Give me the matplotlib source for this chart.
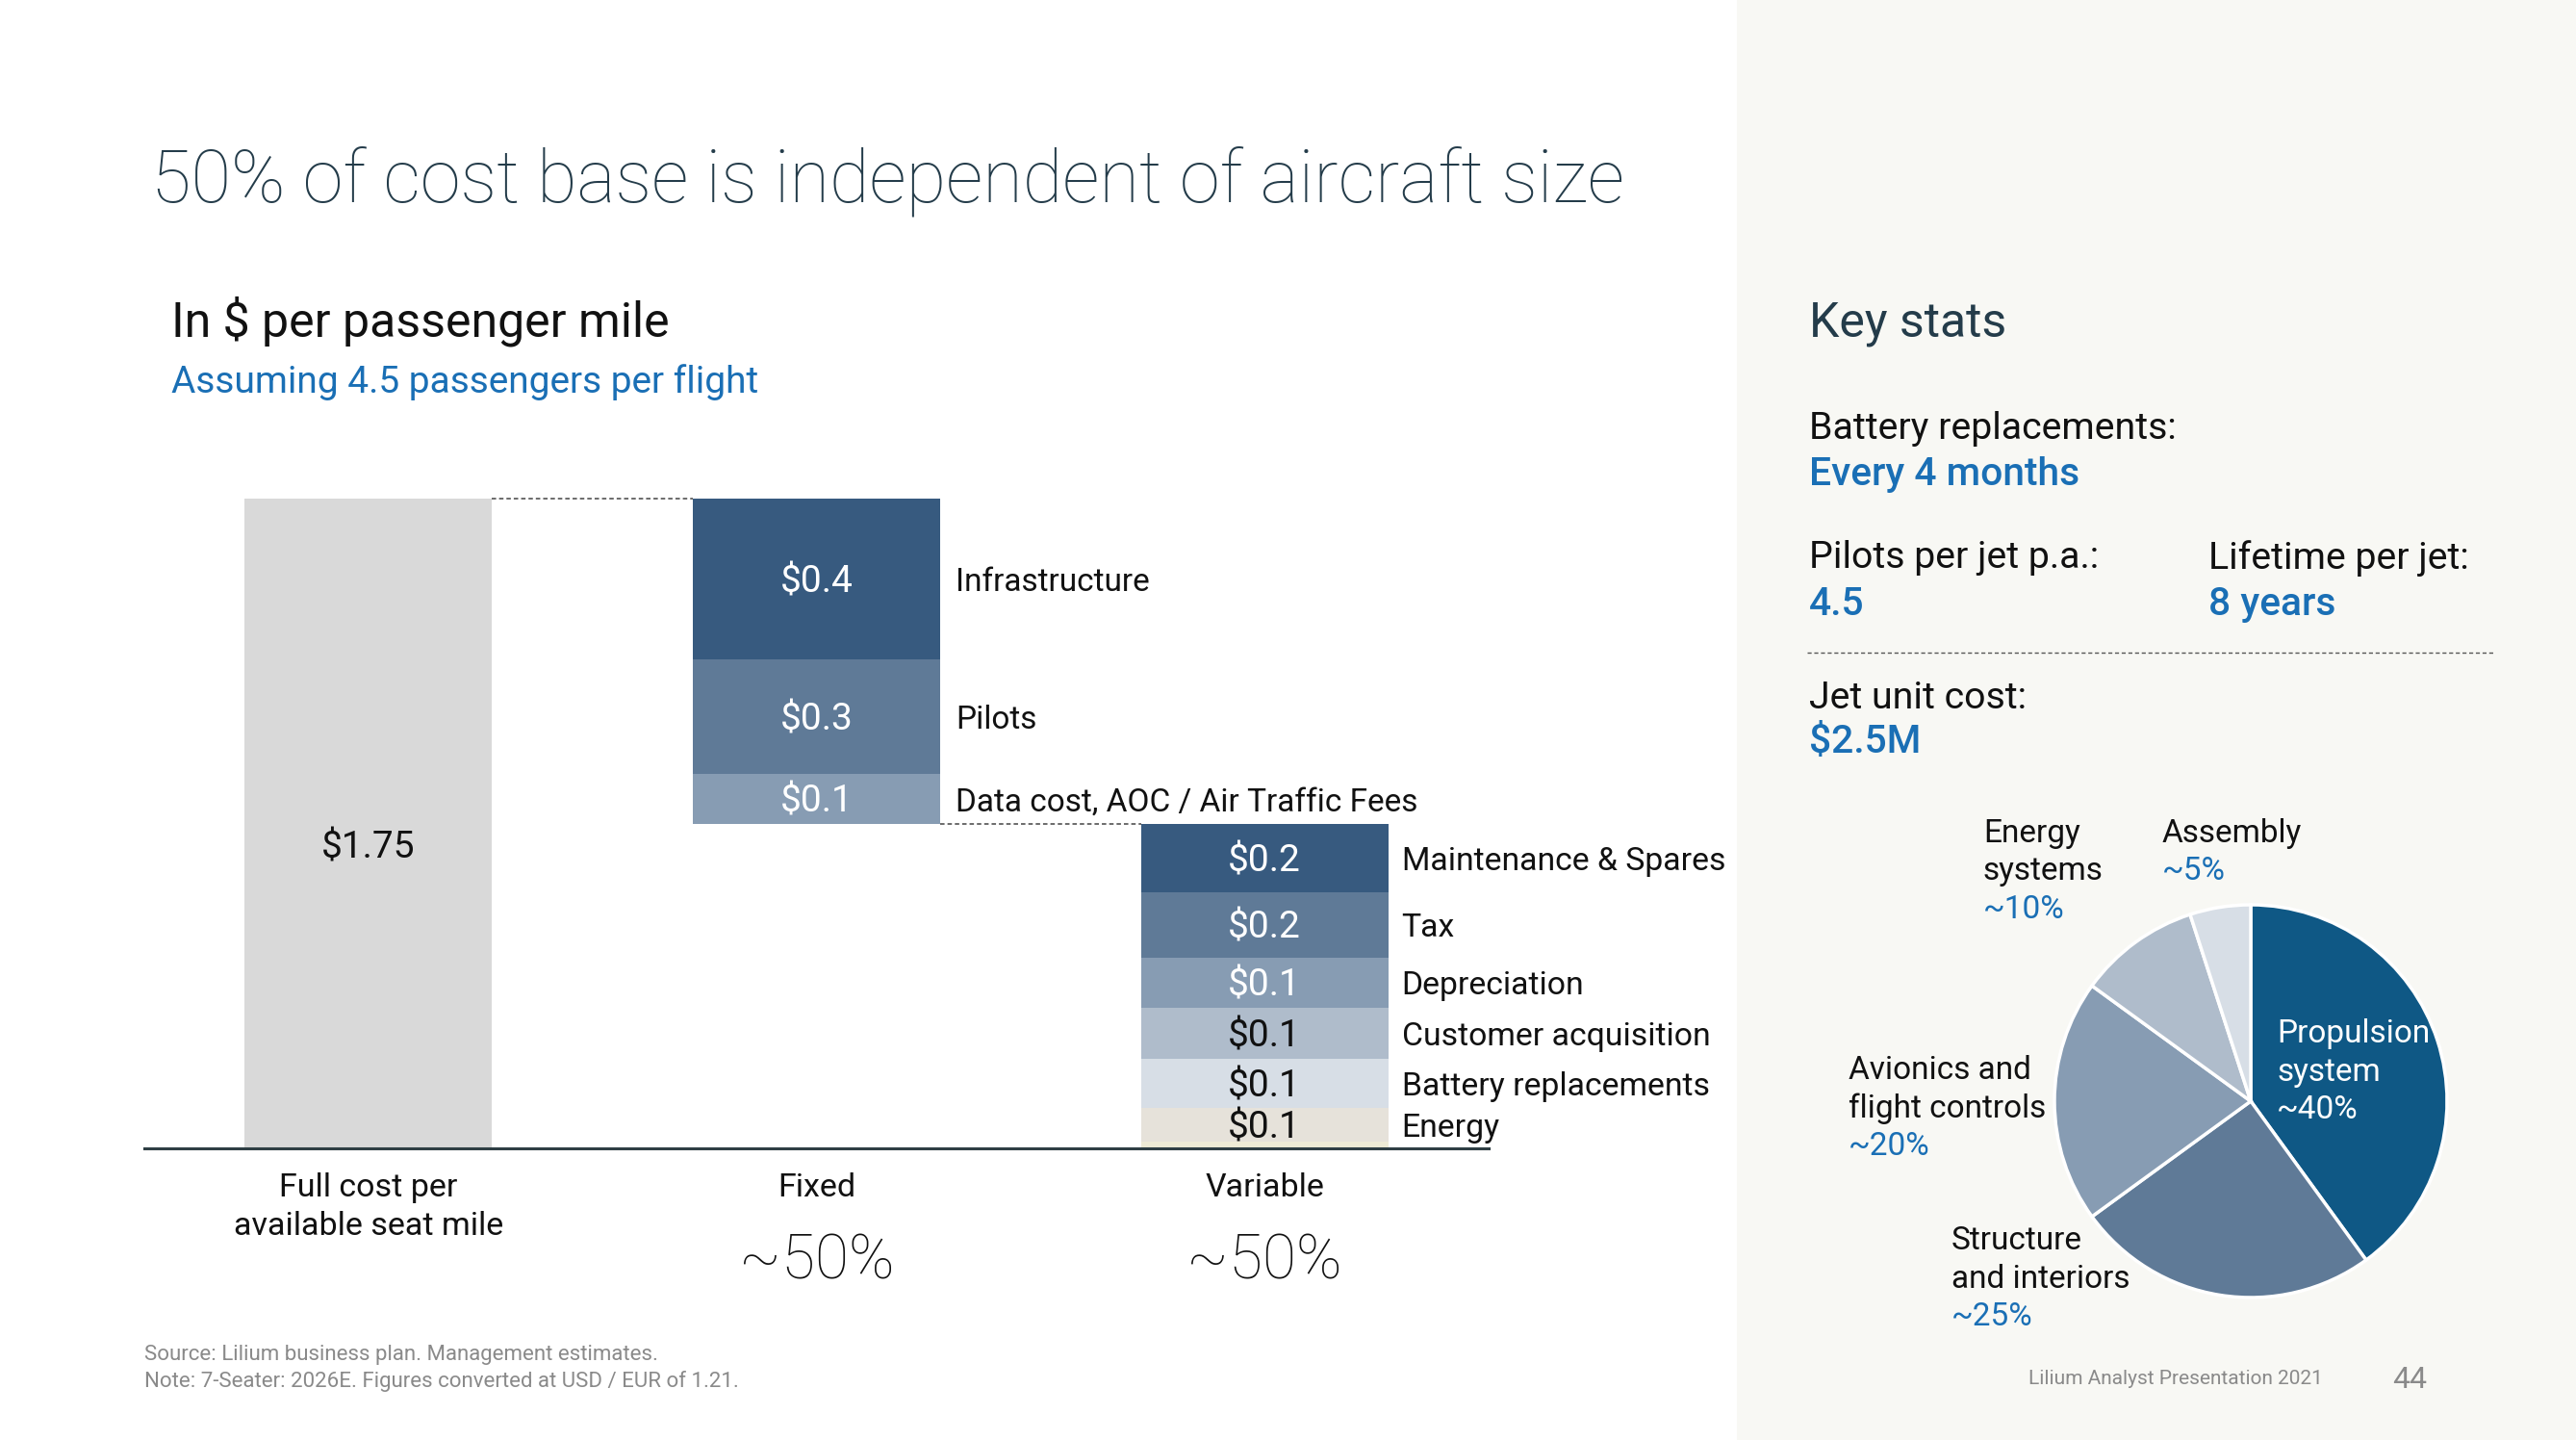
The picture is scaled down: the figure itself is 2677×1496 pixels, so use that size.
import matplotlib.pyplot as plt
from matplotlib.patches import Rectangle
from matplotlib.lines import Line2D

# canvas size in pixels (dpi 100)
W, H = 2677, 1496
plt.rcParams['font.family'] = ['Roboto', 'DejaVu Sans']

# bar chart data ($ per passenger mile)
categories = ['Full cost per\navailable seat mile', 'Fixed', 'Variable']
total_cost = 1.75
total_label = '$1.75'
fixed_names = ['Infrastructure', 'Pilots', 'Data cost, AOC / Air Traffic Fees']
fixed_values = [0.433, 0.309, 0.135]
fixed_labels = ['$0.4', '$0.3', '$0.1']
variable_names = ['Maintenance & Spares', 'Tax', 'Depreciation', 'Customer acquisition',
                  'Battery replacements', 'Energy', '']
variable_values = [0.184, 0.176, 0.135, 0.137, 0.132, 0.091, 0.018]
variable_labels = ['$0.2', '$0.2', '$0.1', '$0.1', '$0.1', '$0.1', '']
shares = ['~50%', '~50%']

# pie data (jet cost split)
pie_names = ['Propulsion\nsystem', 'Structure\nand interiors', 'Avionics and\nflight controls',
             'Energy\nsystems', 'Assembly']
pie_values = [40, 25, 20, 10, 5]
pie_shares = ['~40%', '~25%', '~20%', '~10%', '~5%']

# colours
seg_colors = ['#375A7F', '#5F7A97', '#879CB3', '#AFBCCB', '#D7DEE6', '#E6E2DA', '#EEEBD6']
seg_text = ['white', 'white', 'white', '#111111', '#111111', '#111111', '#111111']
pie_colors = ['#0F5885', '#5F7A97', '#879CB3', '#AFBCCB', '#D7DEE6']
dark = '#243C4A'
blue = '#1A6FB5'
grey = '#8A8A8A'
panel = '#F8F8F4'

fig = plt.figure(figsize=(W / 100, H / 100), dpi=100)
fig.patch.set_facecolor('white')
fig.patches.append(Rectangle((1805 / W, 0), 1 - 1805 / W, 1, transform=fig.transFigure,
                             facecolor=panel, edgecolor='none', zorder=-1))


def ftext(x, y, s, **kw):
    kw.setdefault('va', 'center')
    return fig.text(x / W, 1 - y / H, s, **kw)


# headings
ftext(157, 188, '50% of cost base is independent of aircraft size', fontsize=54.5, color=dark, fontweight='light')
ftext(178, 334, 'In $ per passenger mile', fontsize=36, color='#111111')
ftext(178, 397, 'Assuming 4.5 passengers per flight', fontsize=28, color=blue)

# ---- waterfall bar chart ----
px_per_unit = 385.7
ax = fig.add_axes([150 / W, (H - 1193) / H, 1397 / W, 2.0 * px_per_unit / H])
ax.set_xlim(-0.5, 2.5)
ax.set_ylim(0, 2.0)
ax.patch.set_alpha(0)
bw = 0.552
dy = -0.008  # small optical shift for the text

ax.bar(0, total_cost, width=bw, color='#D9D9D9')
ax.text(0, 0.817 + dy, total_label, ha='center', va='center', fontsize=28, color='#111111')

top = total_cost
for i, (v, lab, name) in enumerate(zip(fixed_values, fixed_labels, fixed_names)):
    bottom = top - v
    ax.bar(1, v, bottom=bottom, width=bw, color=seg_colors[i])
    ax.text(1, bottom + v / 2 + dy, lab, ha='center', va='center', fontsize=28, color=seg_text[i])
    ax.text(1 + bw / 2 + 0.034, bottom + v / 2 + dy, name, ha='left', va='center', fontsize=24,
            color='#111111')
    top = bottom
fixed_bottom = top

for i, (v, lab, name) in enumerate(zip(variable_values, variable_labels, variable_names)):
    bottom = top - v
    ax.bar(2, v, bottom=bottom, width=bw, color=seg_colors[i])
    if lab:
        ax.text(2, bottom + v / 2 + dy, lab, ha='center', va='center', fontsize=28, color=seg_text[i])
        ax.text(2 + bw / 2 + 0.03, bottom + v / 2 + dy, name, ha='left', va='center', fontsize=24.3,
                color='#111111')
    top = bottom

# dashed connectors
ax.plot([bw / 2, 1 - bw / 2], [total_cost, total_cost], color='#444444', lw=1.1, ls=(0, (3, 2)))
ax.plot([1 + bw / 2, 2 - bw / 2], [fixed_bottom, fixed_bottom], color='#444444', lw=1.1, ls=(0, (3, 2)))

for s in ['top', 'right', 'left']:
    ax.spines[s].set_visible(False)
ax.spines['bottom'].set_color('#2F3F44')
ax.spines['bottom'].set_linewidth(2.2)
ax.set_yticks([])
ax.set_xticks([0, 1, 2])
ax.set_xticklabels(categories, fontsize=24.5, color='#111111', linespacing=1.33)
ax.tick_params(axis='x', length=0, pad=18)
for x, s in zip([1, 2], shares):
    ax.text(x, -0.305, s, ha='center', va='center', fontsize=46, fontweight='light',
            color='#111111', clip_on=False)

# ---- key stats panel ----
ftext(1880, 336, 'Key stats', fontsize=36, color=dark)
ftext(1880, 445, 'Battery replacements:', fontsize=28.3, color='#111111')
ftext(1880, 493, 'Every 4 months', fontsize=29.3, color=blue, fontweight='medium')
ftext(1880, 580, 'Pilots per jet p.a.:', fontsize=28.3, color='#111111')
ftext(1880, 628, '4.5', fontsize=29.3, color=blue, fontweight='medium')
ftext(2295, 580, 'Lifetime per jet:', fontsize=28.3, color='#111111')
ftext(2295, 628, '8 years', fontsize=29.3, color=blue, fontweight='medium')
fig.lines.append(Line2D([1878 / W, 2592 / W], [1 - 678 / H, 1 - 678 / H], transform=fig.transFigure,
                        color='#555555', lw=1.0, ls=(0, (3, 2))))
ftext(1880, 725, 'Jet unit cost:', fontsize=28.3, color='#111111')
ftext(1880, 771, '$2.5M', fontsize=29.3, color=blue, fontweight='medium')

# ---- pie chart ----
cx, cy, r = 2339, 1144, 204
pax = fig.add_axes([(cx - r) / W, (H - cy - r) / H, 2 * r / W, 2 * r / H])
pax.pie(pie_values, colors=pie_colors, startangle=90, counterclock=False, radius=1,
        wedgeprops=dict(edgecolor='white', linewidth=2.5))
pax.set_xlim(-1, 1)
pax.set_ylim(-1, 1)
pax.set_aspect('equal')
pax.axis('off')

label_pos = [(2366, 1074, 'white', 'white'),
             (2028, 1289, '#111111', blue),
             (1921, 1112, '#111111', blue),
             (2061, 866, '#111111', blue),
             (2247, 866, '#111111', blue)]
line_gap = 39.5
for (x, y, c_name, c_share), name, share in zip(label_pos, pie_names, pie_shares):
    lines = name.split('\n')
    for k, ln in enumerate(lines):
        ftext(x, y + k * line_gap, ln, fontsize=24, color=c_name)
    ftext(x, y + len(lines) * line_gap, share, fontsize=24, color=c_share)

# ---- footnotes ----
ftext(150, 1408, 'Source: Lilium business plan. Management estimates.', fontsize=16, color=grey)
ftext(150, 1435, 'Note: 7-Seater: 2026E. Figures converted at USD / EUR of 1.21.', fontsize=16, color=grey)
ftext(2108, 1433, 'Lilium Analyst Presentation 2021', fontsize=15, color=grey)
ftext(2486, 1433, '44', fontsize=23, color=grey)

fig.savefig('out.png', dpi=100, facecolor=fig.get_facecolor())
